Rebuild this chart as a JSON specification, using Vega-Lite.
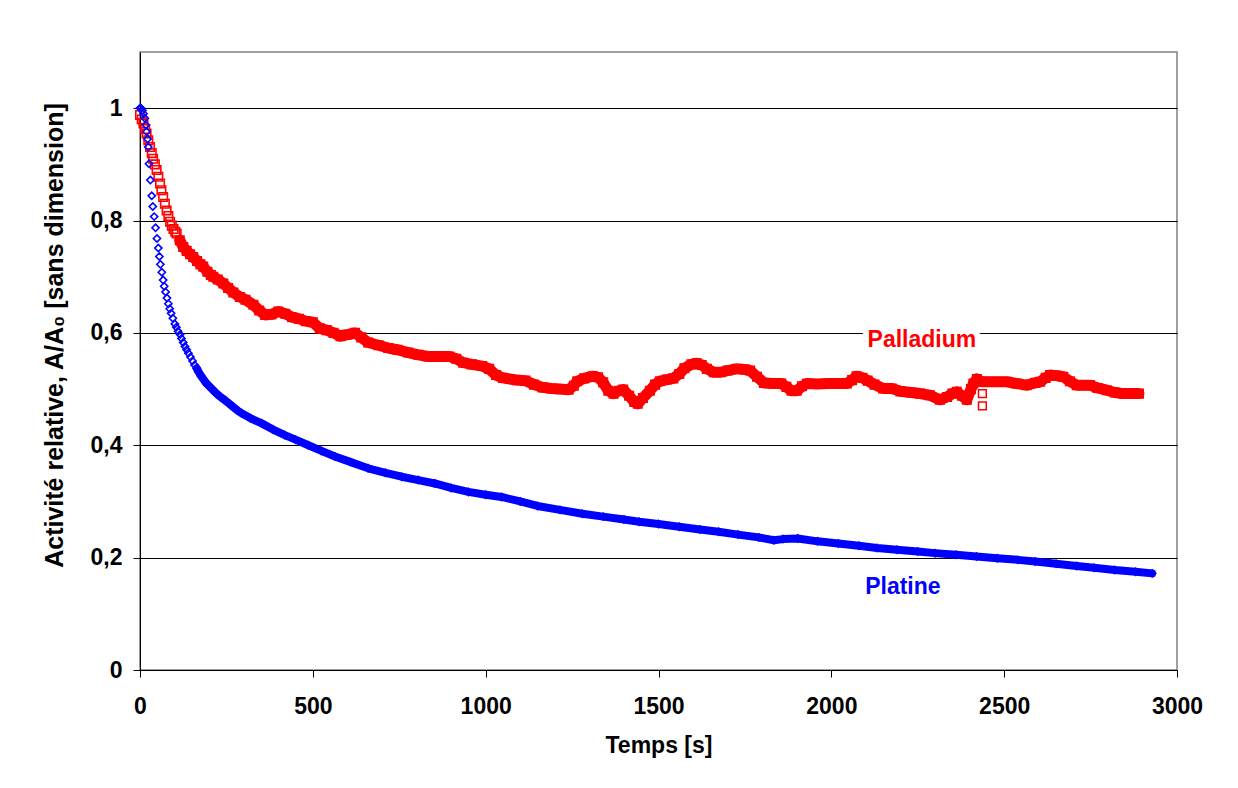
{
  "$schema": "https://vega.github.io/schema/vega-lite/v6.json",
  "autosize": "none",
  "width": 1037,
  "height": 618,
  "padding": {"left": 140, "top": 52, "right": 61, "bottom": 118},
  "background": "white",
  "config": {
    "locale": {"number": {"decimal": ",", "thousands": " ", "grouping": [3], "currency": ["", " €"]}},
    "font": "Liberation Sans",
    "view": {"stroke": "#808080", "strokeWidth": 1.5},
    "axis": {
      "labelFont": "Liberation Sans", "labelFontSize": 23, "labelFontWeight": "bold", "labelColor": "black", "labelFlush": false,
      "titleFont": "Liberation Sans", "titleFontSize": 23, "titleFontWeight": "bold", "titleColor": "black",
      "domainColor": "black", "domainWidth": 1, "tickColor": "black", "tickSize": 7, "tickWidth": 1
    }
  },
  "datasets": {
    "mesures": [
      {"s":"Palladium","t":0,"v":0.988},{"s":"Palladium","t":5,"v":0.980},{"s":"Palladium","t":10,"v":0.973},{"s":"Palladium","t":15,"v":0.963},{"s":"Palladium","t":19,"v":0.955},{"s":"Palladium","t":24,"v":0.943},{"s":"Palladium","t":29,"v":0.931},{"s":"Palladium","t":34,"v":0.920},{"s":"Palladium","t":38,"v":0.910},{"s":"Palladium","t":43,"v":0.900},{"s":"Palladium","t":48,"v":0.890},{"s":"Palladium","t":53,"v":0.878},{"s":"Palladium","t":58,"v":0.866},{"s":"Palladium","t":62,"v":0.854},{"s":"Palladium","t":67,"v":0.842},{"s":"Palladium","t":72,"v":0.830},{"s":"Palladium","t":77,"v":0.818},{"s":"Palladium","t":82,"v":0.808},{"s":"Palladium","t":87,"v":0.798},{"s":"Palladium","t":92,"v":0.791},{"s":"Palladium","t":97,"v":0.785},{"s":"Palladium","t":102,"v":0.780},{"s":"Palladium","t":106,"v":0.777},{"s":"Palladium","t":115,"v":0.765},{"s":"Palladium","t":125,"v":0.753},{"s":"Palladium","t":135,"v":0.746},{"s":"Palladium","t":145,"v":0.740},{"s":"Palladium","t":154,"v":0.735},{"s":"Palladium","t":165,"v":0.728},{"s":"Palladium","t":175,"v":0.722},{"s":"Palladium","t":183,"v":0.718},{"s":"Palladium","t":195,"v":0.709},{"s":"Palladium","t":205,"v":0.703},{"s":"Palladium","t":212,"v":0.700},{"s":"Palladium","t":225,"v":0.695},{"s":"Palladium","t":241,"v":0.688},{"s":"Palladium","t":255,"v":0.680},{"s":"Palladium","t":270,"v":0.672},{"s":"Palladium","t":289,"v":0.664},{"s":"Palladium","t":305,"v":0.659},{"s":"Palladium","t":328,"v":0.650},{"s":"Palladium","t":345,"v":0.640},{"s":"Palladium","t":362,"v":0.632},{"s":"Palladium","t":380,"v":0.633},{"s":"Palladium","t":400,"v":0.638},{"s":"Palladium","t":420,"v":0.634},{"s":"Palladium","t":440,"v":0.628},{"s":"Palladium","t":460,"v":0.625},{"s":"Palladium","t":480,"v":0.621},{"s":"Palladium","t":500,"v":0.619},{"s":"Palladium","t":520,"v":0.608},{"s":"Palladium","t":540,"v":0.605},{"s":"Palladium","t":560,"v":0.600},{"s":"Palladium","t":580,"v":0.594},{"s":"Palladium","t":600,"v":0.597},{"s":"Palladium","t":622,"v":0.600},{"s":"Palladium","t":640,"v":0.592},{"s":"Palladium","t":660,"v":0.583},{"s":"Palladium","t":690,"v":0.578},{"s":"Palladium","t":718,"v":0.573},{"s":"Palladium","t":745,"v":0.570},{"s":"Palladium","t":776,"v":0.565},{"s":"Palladium","t":805,"v":0.561},{"s":"Palladium","t":834,"v":0.558},{"s":"Palladium","t":865,"v":0.558},{"s":"Palladium","t":895,"v":0.558},{"s":"Palladium","t":915,"v":0.554},{"s":"Palladium","t":935,"v":0.547},{"s":"Palladium","t":960,"v":0.544},{"s":"Palladium","t":990,"v":0.541},{"s":"Palladium","t":1010,"v":0.536},{"s":"Palladium","t":1030,"v":0.525},{"s":"Palladium","t":1050,"v":0.520},{"s":"Palladium","t":1070,"v":0.518},{"s":"Palladium","t":1090,"v":0.516},{"s":"Palladium","t":1115,"v":0.515},{"s":"Palladium","t":1140,"v":0.508},{"s":"Palladium","t":1165,"v":0.503},{"s":"Palladium","t":1190,"v":0.501},{"s":"Palladium","t":1215,"v":0.500},{"s":"Palladium","t":1240,"v":0.499},{"s":"Palladium","t":1255,"v":0.506},{"s":"Palladium","t":1265,"v":0.514},{"s":"Palladium","t":1285,"v":0.519},{"s":"Palladium","t":1310,"v":0.523},{"s":"Palladium","t":1325,"v":0.521},{"s":"Palladium","t":1340,"v":0.512},{"s":"Palladium","t":1355,"v":0.497},{"s":"Palladium","t":1370,"v":0.492},{"s":"Palladium","t":1385,"v":0.497},{"s":"Palladium","t":1398,"v":0.499},{"s":"Palladium","t":1415,"v":0.488},{"s":"Palladium","t":1430,"v":0.477},{"s":"Palladium","t":1440,"v":0.474},{"s":"Palladium","t":1455,"v":0.484},{"s":"Palladium","t":1475,"v":0.497},{"s":"Palladium","t":1490,"v":0.508},{"s":"Palladium","t":1504,"v":0.514},{"s":"Palladium","t":1525,"v":0.517},{"s":"Palladium","t":1543,"v":0.519},{"s":"Palladium","t":1560,"v":0.527},{"s":"Palladium","t":1575,"v":0.537},{"s":"Palladium","t":1595,"v":0.544},{"s":"Palladium","t":1611,"v":0.546},{"s":"Palladium","t":1625,"v":0.543},{"s":"Palladium","t":1640,"v":0.536},{"s":"Palladium","t":1660,"v":0.530},{"s":"Palladium","t":1680,"v":0.530},{"s":"Palladium","t":1700,"v":0.533},{"s":"Palladium","t":1726,"v":0.536},{"s":"Palladium","t":1750,"v":0.535},{"s":"Palladium","t":1765,"v":0.533},{"s":"Palladium","t":1785,"v":0.522},{"s":"Palladium","t":1805,"v":0.511},{"s":"Palladium","t":1830,"v":0.510},{"s":"Palladium","t":1855,"v":0.510},{"s":"Palladium","t":1870,"v":0.504},{"s":"Palladium","t":1885,"v":0.497},{"s":"Palladium","t":1900,"v":0.497},{"s":"Palladium","t":1915,"v":0.505},{"s":"Palladium","t":1930,"v":0.510},{"s":"Palladium","t":1960,"v":0.509},{"s":"Palladium","t":1990,"v":0.510},{"s":"Palladium","t":2020,"v":0.510},{"s":"Palladium","t":2045,"v":0.510},{"s":"Palladium","t":2060,"v":0.516},{"s":"Palladium","t":2073,"v":0.523},{"s":"Palladium","t":2090,"v":0.520},{"s":"Palladium","t":2105,"v":0.515},{"s":"Palladium","t":2125,"v":0.508},{"s":"Palladium","t":2150,"v":0.501},{"s":"Palladium","t":2175,"v":0.501},{"s":"Palladium","t":2200,"v":0.496},{"s":"Palladium","t":2230,"v":0.494},{"s":"Palladium","t":2257,"v":0.492},{"s":"Palladium","t":2285,"v":0.489},{"s":"Palladium","t":2314,"v":0.481},{"s":"Palladium","t":2335,"v":0.486},{"s":"Palladium","t":2350,"v":0.492},{"s":"Palladium","t":2363,"v":0.495},{"s":"Palladium","t":2378,"v":0.488},{"s":"Palladium","t":2392,"v":0.481},{"s":"Palladium","t":2404,"v":0.500},{"s":"Palladium","t":2411,"v":0.510},{"s":"Palladium","t":2421,"v":0.518},{"s":"Palladium","t":2435,"v":0.513},{"s":"Palladium","t":2450,"v":0.513},{"s":"Palladium","t":2480,"v":0.513},{"s":"Palladium","t":2507,"v":0.513},{"s":"Palladium","t":2535,"v":0.510},{"s":"Palladium","t":2565,"v":0.507},{"s":"Palladium","t":2590,"v":0.511},{"s":"Palladium","t":2604,"v":0.513},{"s":"Palladium","t":2620,"v":0.520},{"s":"Palladium","t":2633,"v":0.525},{"s":"Palladium","t":2650,"v":0.524},{"s":"Palladium","t":2671,"v":0.522},{"s":"Palladium","t":2690,"v":0.514},{"s":"Palladium","t":2710,"v":0.507},{"s":"Palladium","t":2730,"v":0.507},{"s":"Palladium","t":2748,"v":0.507},{"s":"Palladium","t":2770,"v":0.502},{"s":"Palladium","t":2797,"v":0.498},{"s":"Palladium","t":2820,"v":0.494},{"s":"Palladium","t":2845,"v":0.492},{"s":"Palladium","t":2870,"v":0.492},{"s":"Palladium","t":2890,"v":0.492},
      {"s":"Platine","t":0,"v":1.000},{"s":"Platine","t":3,"v":1.000},{"s":"Platine","t":7,"v":0.996},{"s":"Platine","t":10,"v":0.990},{"s":"Platine","t":14,"v":0.982},{"s":"Platine","t":17,"v":0.970},{"s":"Platine","t":19,"v":0.958},{"s":"Platine","t":22,"v":0.945},{"s":"Platine","t":24,"v":0.931},{"s":"Platine","t":26,"v":0.901},{"s":"Platine","t":30,"v":0.872},{"s":"Platine","t":34,"v":0.844},{"s":"Platine","t":37,"v":0.825},{"s":"Platine","t":41,"v":0.807},{"s":"Platine","t":45,"v":0.787},{"s":"Platine","t":49,"v":0.768},{"s":"Platine","t":53,"v":0.751},{"s":"Platine","t":56,"v":0.736},{"s":"Platine","t":59,"v":0.722},{"s":"Platine","t":63,"v":0.708},{"s":"Platine","t":67,"v":0.694},{"s":"Platine","t":70,"v":0.683},{"s":"Platine","t":74,"v":0.673},{"s":"Platine","t":78,"v":0.662},{"s":"Platine","t":82,"v":0.652},{"s":"Platine","t":86,"v":0.643},{"s":"Platine","t":90,"v":0.635},{"s":"Platine","t":95,"v":0.626},{"s":"Platine","t":101,"v":0.616},{"s":"Platine","t":105,"v":0.610},{"s":"Platine","t":110,"v":0.603},{"s":"Platine","t":116,"v":0.597},{"s":"Platine","t":120,"v":0.590},{"s":"Platine","t":125,"v":0.583},{"s":"Platine","t":130,"v":0.576},{"s":"Platine","t":135,"v":0.570},{"s":"Platine","t":140,"v":0.564},{"s":"Platine","t":146,"v":0.557},{"s":"Platine","t":152,"v":0.550},{"s":"Platine","t":158,"v":0.543},{"s":"Platine","t":164,"v":0.537},{"s":"Platine","t":170,"v":0.530},{"s":"Platine","t":177,"v":0.523},{"s":"Platine","t":184,"v":0.517},{"s":"Platine","t":191,"v":0.511},{"s":"Platine","t":199,"v":0.506},{"s":"Platine","t":207,"v":0.501},{"s":"Platine","t":215,"v":0.496},{"s":"Platine","t":225,"v":0.490},{"s":"Platine","t":235,"v":0.485},{"s":"Platine","t":246,"v":0.480},{"s":"Platine","t":258,"v":0.474},{"s":"Platine","t":270,"v":0.468},{"s":"Platine","t":282,"v":0.462},{"s":"Platine","t":294,"v":0.457},{"s":"Platine","t":320,"v":0.448},{"s":"Platine","t":352,"v":0.439},{"s":"Platine","t":385,"v":0.428},{"s":"Platine","t":419,"v":0.418},{"s":"Platine","t":450,"v":0.410},{"s":"Platine","t":487,"v":0.400},{"s":"Platine","t":525,"v":0.390},{"s":"Platine","t":564,"v":0.380},{"s":"Platine","t":610,"v":0.370},{"s":"Platine","t":660,"v":0.359},{"s":"Platine","t":710,"v":0.351},{"s":"Platine","t":757,"v":0.344},{"s":"Platine","t":805,"v":0.338},{"s":"Platine","t":853,"v":0.332},{"s":"Platine","t":900,"v":0.324},{"s":"Platine","t":950,"v":0.317},{"s":"Platine","t":1000,"v":0.312},{"s":"Platine","t":1046,"v":0.308},{"s":"Platine","t":1100,"v":0.300},{"s":"Platine","t":1150,"v":0.292},{"s":"Platine","t":1215,"v":0.285},{"s":"Platine","t":1280,"v":0.278},{"s":"Platine","t":1340,"v":0.273},{"s":"Platine","t":1400,"v":0.268},{"s":"Platine","t":1444,"v":0.264},{"s":"Platine","t":1500,"v":0.260},{"s":"Platine","t":1560,"v":0.255},{"s":"Platine","t":1620,"v":0.250},{"s":"Platine","t":1674,"v":0.246},{"s":"Platine","t":1730,"v":0.241},{"s":"Platine","t":1790,"v":0.236},{"s":"Platine","t":1834,"v":0.231},{"s":"Platine","t":1860,"v":0.233},{"s":"Platine","t":1903,"v":0.234},{"s":"Platine","t":1960,"v":0.229},{"s":"Platine","t":2020,"v":0.225},{"s":"Platine","t":2080,"v":0.221},{"s":"Platine","t":2132,"v":0.217},{"s":"Platine","t":2190,"v":0.214},{"s":"Platine","t":2250,"v":0.211},{"s":"Platine","t":2300,"v":0.208},{"s":"Platine","t":2361,"v":0.205},{"s":"Platine","t":2420,"v":0.202},{"s":"Platine","t":2480,"v":0.199},{"s":"Platine","t":2540,"v":0.196},{"s":"Platine","t":2590,"v":0.193},{"s":"Platine","t":2650,"v":0.189},{"s":"Platine","t":2710,"v":0.185},{"s":"Platine","t":2760,"v":0.182},{"s":"Platine","t":2820,"v":0.178},{"s":"Platine","t":2880,"v":0.175},{"s":"Platine","t":2928,"v":0.172}
    ],
    "isoles": [
      {"s":"Palladium","t":2437,"v":0.492},{"s":"Palladium","t":2437,"v":0.470}
    ],
    "etiquettes": [
      {"s":"Palladium","t":2262,"v":0.5747},{"s":"Platine","t":2207,"v":0.1352}
    ]
  },
  "encoding": {
    "x": {"field":"t","type":"quantitative","title":"Temps [s]",
      "scale":{"domain":[0,3000],"nice":false},
      "axis":{"values":[0,500,1000,1500,2000,2500,3000],"format":"d","grid":false,"labelPadding":18,"titlePadding":16}},
    "y": {"field":"v","type":"quantitative","title":"Activité relative, A/A₀ [sans dimension]",
      "scale":{"domain":[0,1.1],"nice":false},
      "axis":{"values":[0,0.2,0.4,0.6,0.8,1],"format":"~g","grid":true,"gridColor":"black","gridWidth":1,"labelPadding":11,"titlePadding":23,"titleY":283,"titleFontSize":25}},
    "color": {"field":"s","type":"nominal","legend":null,
      "scale":{"domain":["Palladium","Platine"],"range":["#FF0000","#0000FF"]}}
  },
  "layer": [
    {
      "data": {"name":"mesures"},
      "transform": [{"filter":"(datum.s == 'Palladium' && datum.t >= 110) || (datum.s == 'Platine' && datum.t >= 160)"}],
      "mark": {"type":"line","strokeCap":"round","strokeJoin":"round"},
      "encoding": {
        "strokeWidth": {"field":"s","type":"nominal","legend":null,"scale":{"domain":["Palladium","Platine"],"range":[11,8]}},
        "order": {"field":"t","type":"quantitative"}
      }
    },
    {
      "data": {"name":"mesures"},
      "mark": {"type":"point","filled":false,"strokeWidth":1.6,"opacity":1},
      "encoding": {
        "shape": {"field":"s","type":"nominal","legend":null,"scale":{"domain":["Palladium","Platine"],"range":["square","diamond"]}},
        "size": {"field":"s","type":"nominal","legend":null,"scale":{"domain":["Palladium","Platine"],"range":[72,52]}}
      }
    },
    {
      "data": {"name":"isoles"},
      "mark": {"type":"point","filled":false,"shape":"square","size":60,"strokeWidth":1.5,"opacity":1}
    },
    {
      "data": {"name":"etiquettes"},
      "mark": {"type":"text","font":"Liberation Sans","fontSize":23,"fontWeight":"bold","baseline":"alphabetic","align":"center","stroke":"white","strokeWidth":12,"strokeJoin":"round","fill":"white"},
      "encoding": {"text":{"field":"s"},"color":{"value":"white"}}
    },
    {
      "data": {"name":"etiquettes"},
      "mark": {"type":"text","font":"Liberation Sans","fontSize":23,"fontWeight":"bold","baseline":"alphabetic","align":"center"},
      "encoding": {"text":{"field":"s"}}
    }
  ]
}
